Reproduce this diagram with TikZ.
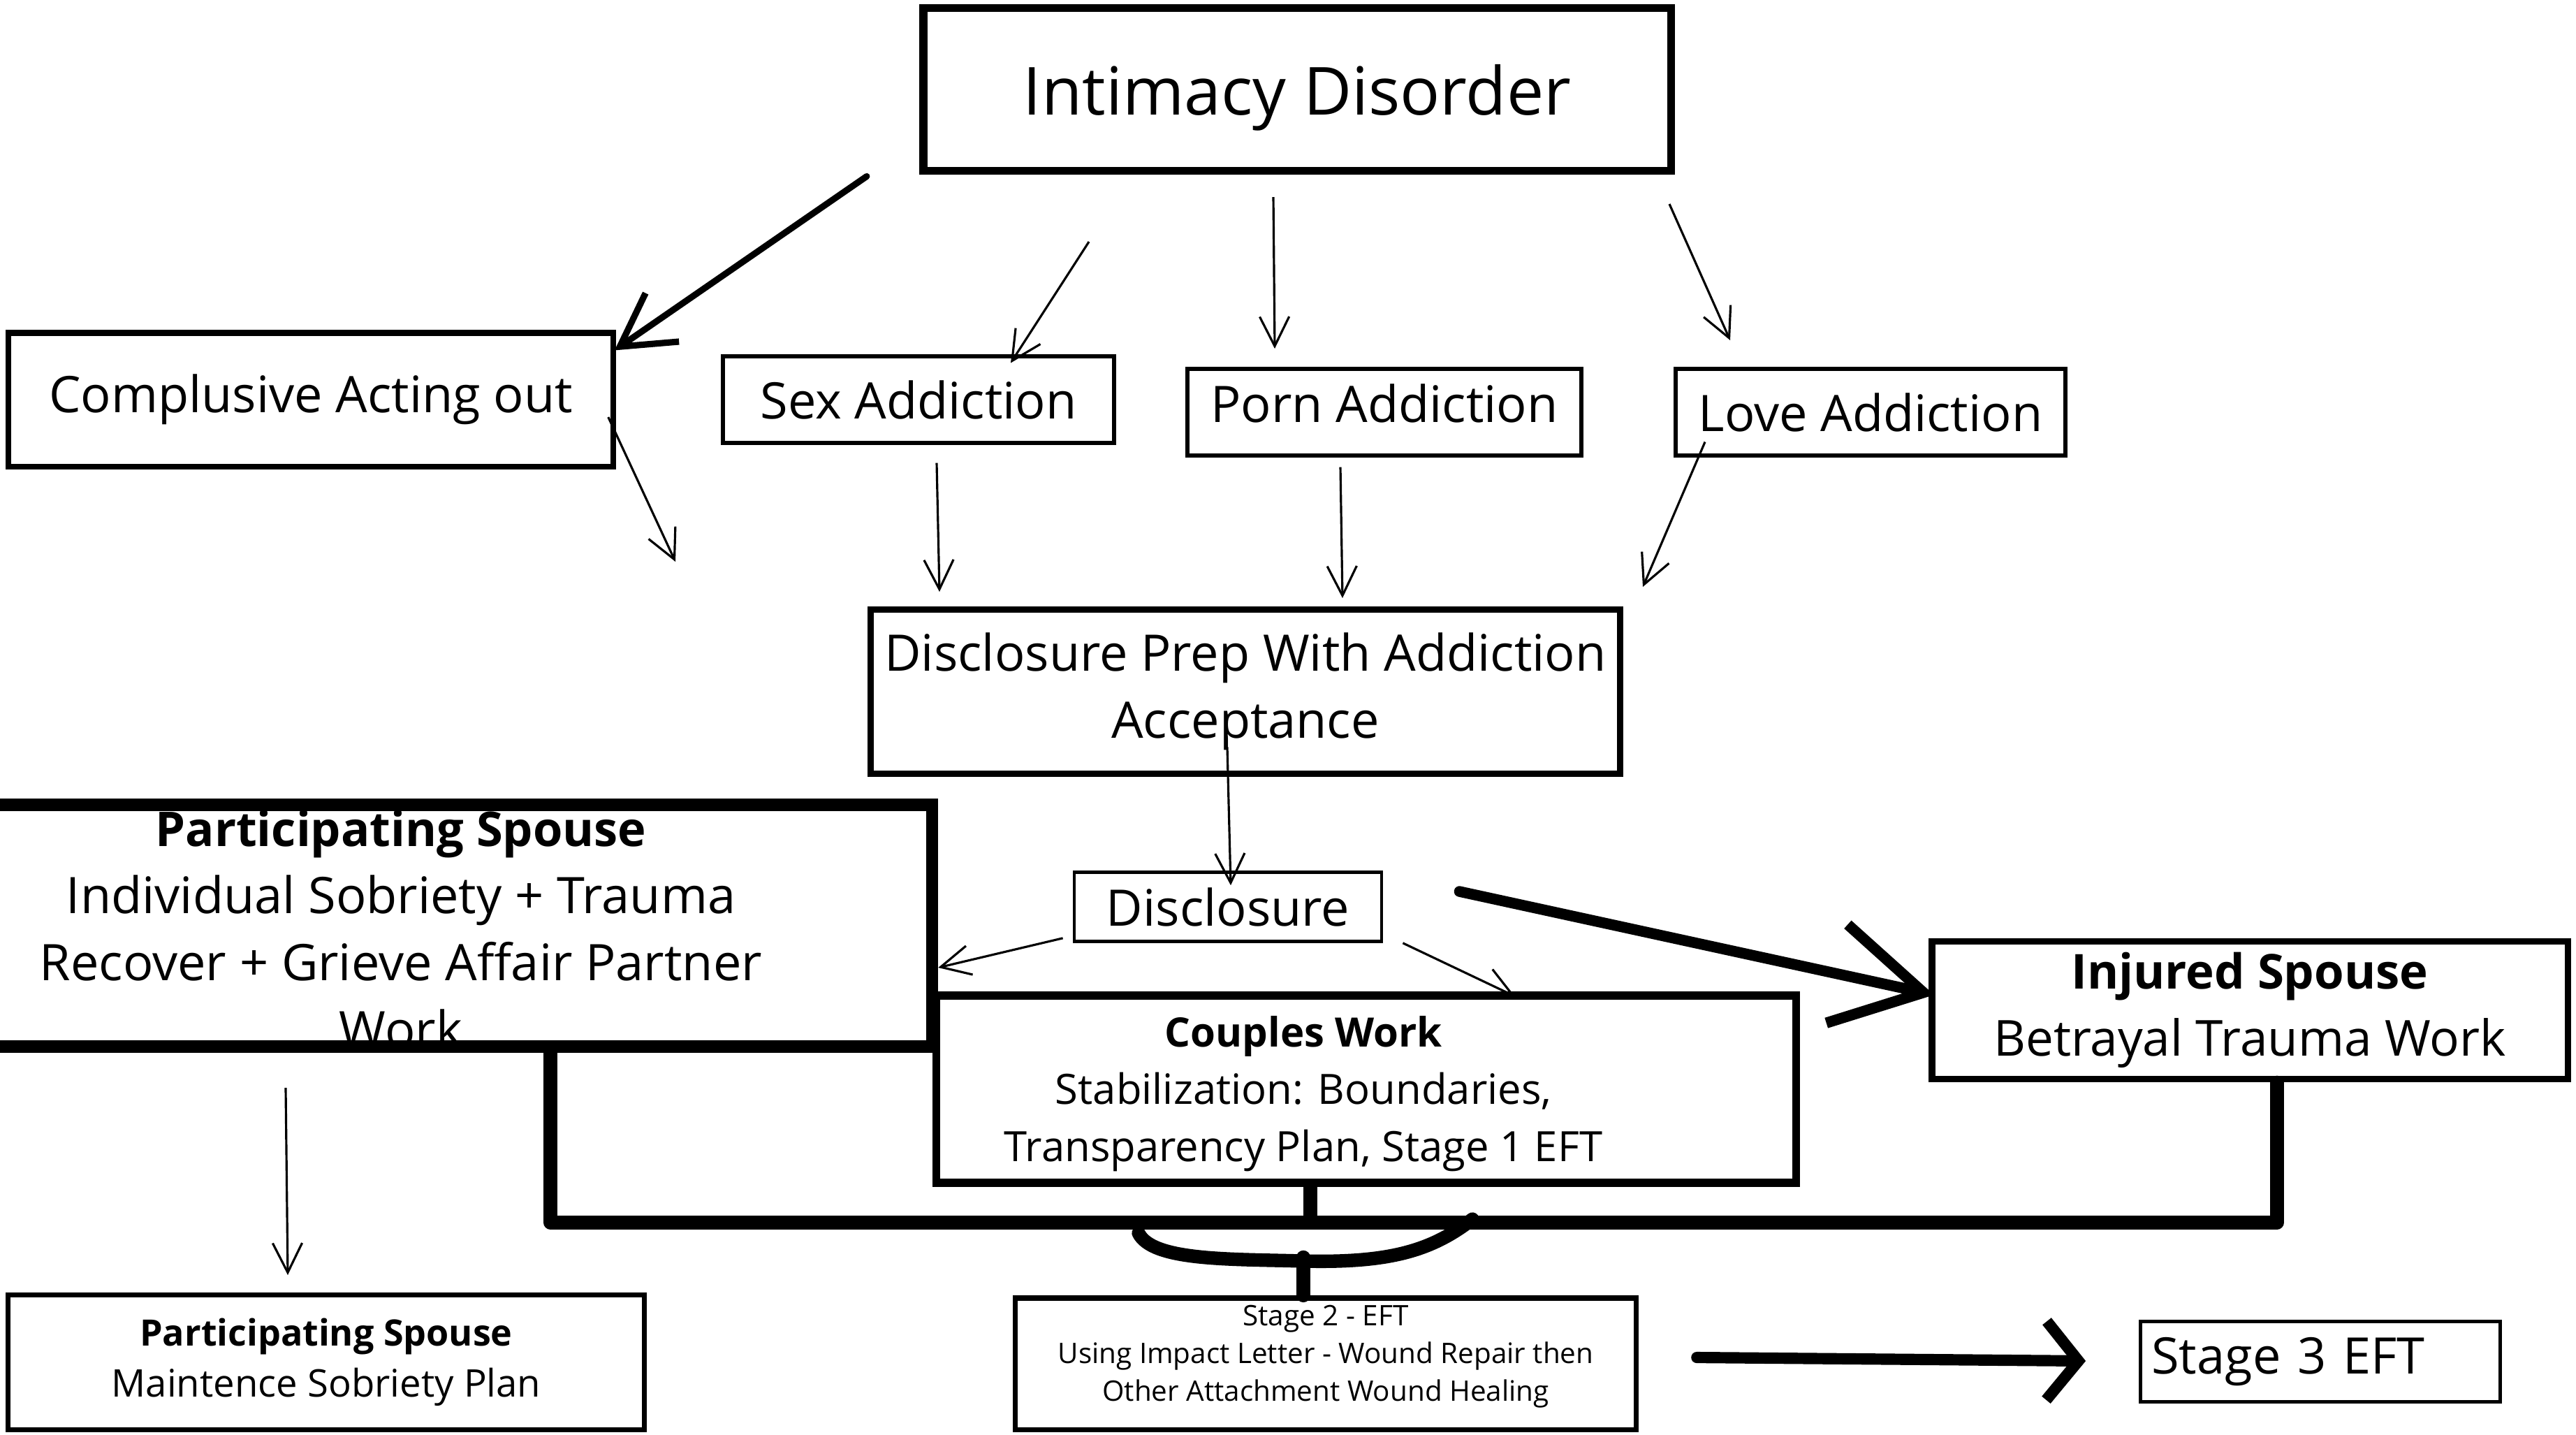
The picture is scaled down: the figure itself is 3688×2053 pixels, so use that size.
\documentclass[tikz,border=0pt]{standalone}
\usepackage{fontspec}
\setmainfont{Open Sans}
\usetikzlibrary{arrows.meta,calc}

\begin{document}
\begin{tikzpicture}[
x=0.01cm, y=-0.01cm,
mybox/.style={
  draw,
  line width=#1,
  inner sep=0pt,
  align=center
  },
mybox/.default=1pt,
bigtext/.style={font=\fontsize{20.5}{27.3}\selectfont},
thinarrow/.style={line width=0.9pt, -{Straight Barb[length=12pt,width=12pt]}},
bus/.style={line width=5.5pt, line cap=round, line join=round}
]
\useasboundingbox (0,0) rectangle (3688,2053);

% boxes
\node[mybox=3.3pt, minimum width=10.7cm, minimum height=2.33cm, text depth=0pt, font=\fontsize{27}{32}\selectfont] (intimacy) at (1857,128) {Intimacy Disorder};
\node[mybox=2.3pt, minimum width=8.65cm, minimum height=1.91cm, bigtext] (acting) at (445,572) {Complusive Acting out};
\node[mybox=1.7pt, minimum width=5.6cm, minimum height=1.23cm, bigtext] (sex) at (1315,572) {Sex Addiction};
\node[mybox=1.7pt, minimum width=5.63cm, minimum height=1.23cm, text depth=0.25cm, bigtext] (porn) at (1982,590) {Porn Addiction};
\node[mybox=1.7pt, minimum width=5.58cm, minimum height=1.23cm, bigtext] (love) at (2678,590) {Love Addiction};
\node[mybox=2.7pt, minimum width=10.72cm, minimum height=2.35cm, bigtext] (prep) at (1783,990) {Disclosure Prep With Addiction\\Acceptance};
\node[mybox=5pt, minimum width=15.2cm, minimum height=3.46cm] (partic) at (574,1325) {};
\node[bigtext, align=center] (partictext) at (574,1330) {{\fontsize{19.5}{27.3}\selectfont\bfseries Participating Spouse}\\Individual Sobriety + Trauma\\Recover + Grieve Affair Partner\\Work};
\node[mybox=1.3pt, minimum width=4.4cm, minimum height=0.99cm, bigtext] (disclosure) at (1758,1298) {Disclosure};
\node[mybox=3.3pt, minimum width=12.3cm, minimum height=2.68cm] (couples) at (1956,1559) {};
\node[align=center, font=\fontsize{17}{23.3}\selectfont] (couplestext) at (1866,1566) {{\fontsize{16.5}{23.3}\selectfont\bfseries Couples Work}\\Stabilization: Boundaries,\\Transparency Plan, Stage 1 EFT};
\node[mybox=2.7pt, minimum width=9.1cm, minimum height=1.97cm, font=\fontsize{20.2}{27.3}\selectfont] (injured) at (3221,1446) {{\fontsize{19.6}{27.3}\selectfont\bfseries Injured Spouse}\\Betrayal Trauma Work};
\node[mybox=2pt, minimum width=9.1cm, minimum height=1.93cm, font=\fontsize{15.5}{20.8}\selectfont] (maint) at (467,1950) {{\fontsize{14.8}{20.8}\selectfont\bfseries Participating Spouse}\\Maintence Sobriety Plan};
\node[mybox=2pt, minimum width=8.89cm, minimum height=1.88cm, text depth=0.31cm, font=\fontsize{11.5}{15.4}\selectfont] (stage2) at (1898,1952) {Stage 2 - EFT\\Using Impact Letter - Wound Repair then\\Other Attachment Wound Healing};
\node[mybox=1.3pt, minimum height=1.15cm, text width=4.83cm, inner xsep=0.16cm, align=left, bigtext] (stage3) at (3322,1949) {Stage 3 EFT};

% loose arrow ends
\coordinate (sextail) at (1559,346);
\coordinate (porntail) at (1823,282);
\coordinate (pornhead) at (1825,499);
\coordinate (lovetail) at (2390,292);
\coordinate (lovehead) at (2477,487);
\coordinate (actinghead) at (967,804);
\coordinate (sexdown) at (1345,847);
\coordinate (porndown) at (1922,856);
\coordinate (lovedown) at (2352,840);
\coordinate (mainttail) at (409,1557);
\coordinate (mainthead) at (412,1825);
\coordinate (bus) at (1876,1750);

\path[thinarrow]
(sextail) edge ($(sex.north)+(132,12)$)
(porntail) edge (pornhead)
(lovetail) edge (lovehead)
($(acting.east)+(-11,25)$) edge (actinghead)
($(sex.south)+(26,26)$) edge (sexdown)
($(porn.south)+(-63,14)$) edge (porndown)
($(love.south)+(-237,-22)$) edge (lovedown)
($(prep.south)+(-26,-43)$) edge ($(disclosure.north)+(4,21)$)
($(disclosure.south west)+(-14,-7)$) edge ($(partic.east)+(0,60)$)
($(disclosure.south east)+(28,0)$) edge ($(couples.north)+(213,7)$)
(mainttail) edge (mainthead);

% heavy arrows
\draw[line width=2.6pt, line cap=round, -{Straight Barb[length=21pt,width=24pt]}]
  ($(intimacy.south west)+(-75,2)$) -- ($(acting.north east)+(-2,29)$);
\draw[line width=4.4pt, line cap=round, -{Straight Barb[length=36pt,width=41pt]}]
  ($(disclosure.east)+(109,-22)$) -- ($(injured.west)+(8,-22)$);
\draw[line width=4.6pt, line cap=round, -{Straight Barb[length=13pt,width=32pt]}]
  ($(stage2.east)+(83,-9)$) -- ($(stage3.west)+(-76,-1)$);

% bottom connectors
\draw[bus] ($(partic.south)+(214,0)$) |- (bus) -| ($(injured.south)+(39,0)$);
\draw[bus] (couples.south -| bus) -- (bus);
\draw[bus] (1630,1765) .. controls (1650,1805) and (1760,1802) .. (1866,1805)
  .. controls (1990,1808) and (2050,1790) .. (2108,1745);
\draw[bus] ($(stage2.north)+(-32,0)$) -- ++(0,-55);
\end{tikzpicture}
\end{document}
